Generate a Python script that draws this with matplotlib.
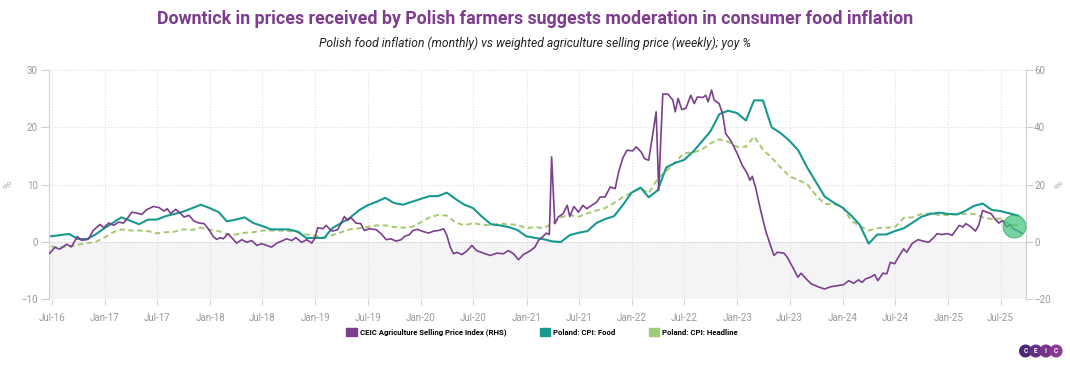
import matplotlib
matplotlib.use("Agg")
import numpy as np
import pandas as pd
import matplotlib.pyplot as plt
import matplotlib.dates as mdates
from matplotlib.patches import Patch, Circle

plt.rcParams['font.family'] = ['Roboto', 'DejaVu Sans']

# monthly CPI, yoy % (month-end dates, Jun 2016 - Aug 2025)
cpi_months = pd.date_range('2016-06-30', '2025-08-31', freq='ME')

cpi_food = [
    1.0, 1.2, 1.4, 0.5, 0.5, 1.3, 2.4,                            # 2016 Jun-Dec
    3.4, 4.3, 3.7, 3.1, 3.9, 3.9, 4.5, 4.9, 5.3, 5.9, 6.5, 5.9,   # 2017
    5.2, 3.6, 3.9, 4.3, 3.3, 2.8, 2.2, 2.2, 2.2, 1.8, 0.7, 0.7,   # 2018
    0.7, 2.4, 3.3, 4.2, 5.5, 6.4, 7.0, 7.7, 6.8, 6.5, 7.0, 7.5,   # 2019
    8.0, 8.0, 8.6, 7.5, 6.5, 5.9, 4.4, 3.1, 2.9, 2.6, 2.1, 1.0,   # 2020
    0.7, 0.5, 0.1, 0.0, 1.2, 1.6, 1.9, 3.3, 4.0, 4.5, 6.4, 8.6,   # 2021
    9.5, 7.8, 9.0, 13.0, 13.8, 14.3, 15.7, 17.5, 19.3, 22.3, 22.9, 22.5,  # 2022
    21.2, 24.7, 24.7, 20.0, 19.0, 17.7, 16.0, 13.0, 10.5, 7.9, 6.9, 6.0,  # 2023
    4.6, 3.0, -0.3, 1.3, 1.3, 1.9, 2.4, 3.4, 4.4, 4.9, 5.1, 4.9,  # 2024
    4.8, 5.4, 6.3, 6.7, 5.6, 5.4, 5.0, 4.6,                       # 2025 Jan-Aug
]

cpi_headline = [
    -0.8, -0.9, -0.8, -0.5, -0.2, 0.0, 0.8,
    1.7, 2.2, 2.0, 2.0, 1.9, 1.5, 1.7, 1.8, 2.2, 2.1, 2.5, 2.1,
    1.9, 1.4, 1.3, 1.6, 1.7, 2.0, 2.0, 2.0, 1.9, 1.8, 1.3, 1.1,
    0.7, 1.2, 1.7, 2.2, 2.4, 2.6, 2.9, 2.9, 2.6, 2.5, 2.6, 3.4,
    4.3, 4.7, 4.6, 3.4, 2.9, 3.3, 3.0, 2.9, 3.2, 3.1, 3.0, 2.4,
    2.6, 2.4, 3.2, 4.3, 4.7, 4.4, 5.0, 5.5, 5.9, 6.8, 7.8, 8.6,
    9.4, 8.5, 11.0, 12.4, 13.9, 15.5, 15.6, 16.1, 17.2, 17.9, 17.5, 16.6,
    16.6, 18.4, 16.1, 14.7, 13.0, 11.5, 10.8, 10.1, 8.2, 6.6, 6.6, 6.2,
    3.7, 2.8, 2.0, 2.4, 2.5, 2.6, 4.2, 4.3, 4.9, 5.0, 4.7, 4.7,
    4.9, 4.9, 4.9, 4.3, 4.0, 4.1, 3.1, 2.9,
]

# weekly agriculture selling price index, yoy % (RHS)
agri_dates = [
    '2016-06-24', '2016-07-12', '2016-07-30', '2016-08-22', '2016-09-08', '2016-09-28',
    '2016-10-13', '2016-11-05', '2016-11-22', '2016-12-16', '2016-12-29',
    '2017-01-15', '2017-02-01', '2017-02-18', '2017-03-07', '2017-03-24', '2017-04-05',
    '2017-04-22', '2017-05-09', '2017-05-27', '2017-06-19', '2017-07-08', '2017-07-25',
    '2017-08-06', '2017-08-17', '2017-09-04', '2017-09-21', '2017-10-03', '2017-10-20',
    '2017-11-06', '2017-11-24', '2017-12-11', '2017-12-26',
    '2018-01-12', '2018-01-24', '2018-02-05', '2018-02-16', '2018-03-03', '2018-03-17',
    '2018-04-03', '2018-04-21', '2018-05-08', '2018-05-25', '2018-06-12', '2018-06-29',
    '2018-07-16', '2018-08-02', '2018-08-20', '2018-09-06', '2018-09-23', '2018-10-11',
    '2018-10-25', '2018-11-14', '2018-12-02', '2018-12-19', '2018-12-29',
    '2019-01-09', '2019-01-27', '2019-02-07', '2019-02-18', '2019-03-01', '2019-03-19',
    '2019-03-30', '2019-04-11', '2019-04-22', '2019-05-04', '2019-05-21', '2019-06-07',
    '2019-06-19', '2019-07-07', '2019-07-30', '2019-08-16', '2019-09-03', '2019-09-20',
    '2019-10-07', '2019-10-25', '2019-11-05', '2019-11-23', '2019-12-04', '2019-12-21',
    '2020-01-04', '2020-01-28', '2020-02-14', '2020-03-02', '2020-03-20', '2020-03-31',
    '2020-04-12', '2020-04-23', '2020-05-05', '2020-05-22', '2020-06-08', '2020-06-26',
    '2020-07-12', '2020-08-05', '2020-08-28', '2020-09-20', '2020-10-13', '2020-10-30',
    '2020-11-17', '2020-12-04', '2020-12-21',
    '2021-01-12', '2021-01-30', '2021-02-11', '2021-02-28', '2021-03-11', '2021-03-21',
    '2021-03-29', '2021-04-09', '2021-04-21', '2021-05-08', '2021-05-22', '2021-05-31',
    '2021-06-14', '2021-06-30', '2021-07-15', '2021-07-29', '2021-08-15', '2021-09-01',
    '2021-09-13', '2021-09-30', '2021-10-18', '2021-11-04', '2021-11-16', '2021-12-01',
    '2021-12-15',
    '2022-01-04', '2022-01-16', '2022-02-02', '2022-02-14', '2022-02-28', '2022-03-11',
    '2022-03-26', '2022-04-04', '2022-04-10', '2022-04-18', '2022-05-06', '2022-05-23',
    '2022-05-31', '2022-06-10', '2022-06-23', '2022-07-07', '2022-07-24', '2022-08-05',
    '2022-08-16', '2022-09-03', '2022-09-14', '2022-09-22', '2022-10-04', '2022-10-13',
    '2022-10-30', '2022-11-11', '2022-11-22', '2022-12-10',
    '2023-01-01', '2023-01-18', '2023-02-05', '2023-02-14', '2023-02-22', '2023-03-05',
    '2023-03-23', '2023-04-09', '2023-04-26', '2023-05-08', '2023-05-20', '2023-06-12',
    '2023-06-23', '2023-07-12', '2023-07-30', '2023-08-10', '2023-08-28', '2023-09-14',
    '2023-10-07', '2023-10-30', '2023-11-22', '2023-12-16',
    '2024-01-04', '2024-01-22', '2024-02-08', '2024-02-25', '2024-03-08', '2024-03-20',
    '2024-04-06', '2024-04-21', '2024-05-02', '2024-05-19', '2024-06-02', '2024-06-14',
    '2024-06-29', '2024-07-12', '2024-07-30', '2024-08-10', '2024-08-28', '2024-09-18',
    '2024-10-07', '2024-10-25', '2024-11-11', '2024-11-23', '2024-12-10', '2024-12-30',
    '2025-01-14', '2025-01-22', '2025-02-08', '2025-02-20', '2025-03-03', '2025-03-21',
    '2025-04-05', '2025-04-16', '2025-04-30', '2025-05-14', '2025-05-29', '2025-06-13',
    '2025-06-25', '2025-07-08', '2025-07-22', '2025-08-02', '2025-08-14', '2025-08-28',
    '2025-09-12',
]

agri_yoy = [
    -4.0, -1.9, -2.5, -0.8, -1.7, 1.9,
    0.6, 0.9, 4.0, 6.1, 5.0,
    6.6, 5.8, 6.9, 6.6, 8.7, 10.4,
    10.1, 9.6, 11.3, 12.4, 12.0, 10.8,
    11.6, 9.9, 11.4, 9.9, 8.7, 9.3,
    7.3, 6.6, 6.4, 4.6,
    1.9, 0.9, 1.5, 1.1, 2.9, 1.5,
    -0.4, 0.8, -0.1, 0.5, -1.2, -0.6,
    -1.2, -1.8, -0.4, 0.3, 1.1, 0.5,
    1.5, -0.1, 0.8, -0.4, 1.1,
    5.0, 4.6, 5.8, 4.6, 3.8, 4.3,
    6.4, 8.9, 7.5, 8.5, 6.6, 6.4,
    4.0, 4.6, 4.3, 2.9, 0.8, 1.1,
    0.3, 0.8, 1.9, 2.6, 4.0, 4.4,
    3.8, 3.1, 3.8, 4.0, 4.6, 2.3,
    -1.8, -4.1, -3.6, -4.4, -3.2, -1.2,
    -3.0, -3.9, -4.7, -3.9, -4.1, -3.0,
    -4.1, -6.2, -4.4,
    -3.2, -1.8, 0.5, 2.0, 3.1, 2.6,
    29.7, 6.4, 8.7, 9.9, 12.8, 8.9,
    12.4, 10.4, 12.8, 11.6, 12.8, 13.9,
    15.7, 15.7, 19.2, 18.6, 24.4, 29.4,
    32.0,
    31.8, 33.2, 31.4, 29.1, 28.5, 35.5,
    45.4, 18.0, 33.2, 51.6, 51.6, 49.5,
    45.4, 50.1, 46.2, 46.6, 51.2, 48.3,
    50.6, 50.4, 51.2, 48.9, 53.0, 49.5,
    48.3, 44.8, 37.8, 35.3,
    30.8, 26.8, 23.8, 21.5, 22.9, 19.2,
    11.0, 4.0, -1.2, -4.7, -3.6, -3.9,
    -5.3, -8.8, -12.3, -10.9, -12.9, -14.6,
    -15.6, -16.4, -15.6, -15.2,
    -14.9, -13.5, -14.4, -13.2, -14.1, -12.9,
    -12.3, -11.4, -13.5, -10.9, -11.1, -7.1,
    -7.6, -5.3, -2.4, -3.6, -0.6, 0.8,
    0.3, -0.1, 1.5, 2.9, 2.6, 2.9,
    2.3, 3.4, 5.8, 5.2, 6.4, 5.2,
    3.8, 5.8, 11.0, 10.4, 9.9, 7.8,
    6.6, 7.5, 5.2, 6.1, 4.6, 4.0,
    3.1,
]

left_ticks = [-10, 0, 10, 20, 30]
right_ticks = [-20, 0, 20, 40, 60]

c_agri = '#7b3f8c'
c_food = '#17998f'
c_head = '#a4c96f'
c_grid = '#dedede'
c_tick = '#9a9a9a'

agri_dates = pd.to_datetime(agri_dates)

fig = plt.figure(figsize=(10.7, 3.65), dpi=100)
ax = fig.add_axes([0.0455, 0.18, 0.9131, 0.6282])
ax2 = ax.twinx()

# negative area shading + grid
ax.axhspan(left_ticks[0], 0, color='#f4f4f7', zorder=0, lw=0)
ax.axhline(0, color='#e3e3e8', lw=0.8, zorder=0.5)
ax.grid(True, linestyle=':', color=c_grid, lw=0.8, zorder=0.4)

ax.plot(cpi_months, cpi_headline, color=c_head, lw=1.4, dashes=(2.8, 1.8), zorder=2)
ax.plot(cpi_months, cpi_food, color=c_food, lw=1.5, zorder=3)
ax2.plot(agri_dates, agri_yoy, color=c_agri, lw=1.2, zorder=3)

# highlight on the latest readings
ax2.scatter(agri_dates[-5:].mean(), np.mean(agri_yoy[-5:]) + 0.8, s=270, color='#3fc57d',
            alpha=0.72, edgecolor='#2ca866', lw=0.8, zorder=6)

ax.set_ylim(left_ticks[0], left_ticks[-1])
ax2.set_ylim(right_ticks[0], right_ticks[-1])
ax.set_yticks(left_ticks)
ax2.set_yticks(right_ticks)
ax.set_xlim(pd.Timestamp('2016-06-21'), pd.Timestamp('2025-09-26'))
ax.xaxis.set_major_locator(mdates.MonthLocator(bymonth=[1, 7]))
ax.xaxis.set_major_formatter(mdates.DateFormatter('%b-%y'))

for s in ['top', 'bottom', 'right']:
    ax.spines[s].set_visible(False)
for s in ['top', 'bottom', 'left']:
    ax2.spines[s].set_visible(False)
ax.spines['left'].set_color('#cfcfcf')
ax2.spines['right'].set_color('#cfcfcf')

ax.tick_params(axis='y', length=6, width=0.8, color='#cfcfcf', labelcolor=c_tick, labelsize=7, pad=2)
ax2.tick_params(axis='y', length=5, width=0.8, color='#cfcfcf', labelcolor=c_tick, labelsize=7, pad=1)
ax.tick_params(axis='x', length=4, width=0.8, color='#d5d5d5', labelcolor=c_tick, labelsize=7, pad=6)

ax.set_ylabel('%', color='#aaaaaa', fontsize=7)
ax.yaxis.set_label_coords(-0.0365, 0.5)
ax2.set_ylabel('%', color='#aaaaaa', fontsize=7, rotation=90)
ax2.yaxis.set_label_coords(1.029, 0.5)

fig.text(0.5, 0.949, 'Downtick in prices received by Polish farmers suggests moderation in consumer food inflation',
         ha='center', va='center', fontsize=12.75, fontweight='bold', color='#7d3c8e')
fig.text(0.5, 0.882, 'Polish food inflation (monthly) vs weighted agriculture selling price (weekly); yoy %',
         ha='center', va='center', fontsize=8.7, style='italic', color='#222222')

handles = [Patch(color=c_agri), Patch(color=c_food), Patch(color='#9fcb74')]
labels = ['CEIC Agriculture Selling Price Index (RHS)', 'Poland: CPI: Food', 'Poland: CPI: Headline']
fig.legend(handles, labels, loc='center', bbox_to_anchor=(0.5065, 0.0904), ncol=3, frameon=False,
           prop={'size': 5.6, 'weight': 'bold'}, handlelength=1.3, handleheight=1.3,
           handletextpad=0.4, columnspacing=4.3)

# CEIC logo
lax = fig.add_axes([0, 0, 1, 1])
lax.set_xlim(0, 1070)
lax.set_ylim(365, 0)
lax.axis('off')
logo_cols = ['#4c2878', '#63307f', '#77358a', '#8a3a93']
for i, (ch, col) in enumerate(zip('CEIC', logo_cols)):
    cx = 1025.5 + i * 10.2
    lax.add_patch(Circle((cx, 351), 5.8, color=col, zorder=2 + i))
    lax.text(cx, 351.3, ch, ha='center', va='center', color='white', fontsize=4.7,
             fontweight='bold', zorder=10)

fig.savefig('out.png', dpi=100)
